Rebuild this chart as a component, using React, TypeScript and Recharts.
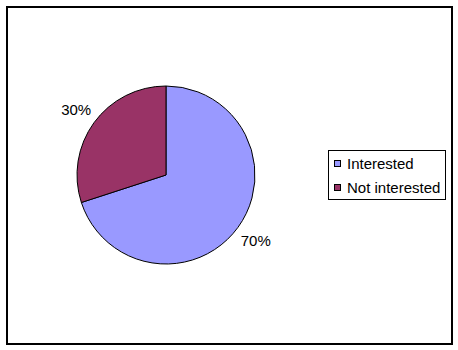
import React from 'react';
import { PieChart, Pie, Cell, Legend } from 'recharts';

const categories = ['Interested', 'Not interested'];
const values = [70, 30];
const colors = ['#9999FF', '#993366'];

const data = categories.map((name, i) => ({ name, value: values[i] }));

const RADIAN = Math.PI / 180;

const renderLabel = (props: any) => {
  const { cx, cy, midAngle, outerRadius, percent } = props;
  const r = outerRadius + 22;
  const x = cx + r * Math.cos(-midAngle * RADIAN);
  const y = cy + r * Math.sin(-midAngle * RADIAN);
  return (
    <text x={x} y={y} fill="#000" textAnchor="middle" dominantBaseline="central" fontSize={15}>
      {`${Math.round(percent * 100)}%`}
    </text>
  );
};

const renderLegend = () => (
  <div style={{ boxSizing: 'border-box', border: '1px solid #000', background: '#fff', padding: '0 0 0 5px', width: 118, height: 50 }}>
    {data.map((d, i) => (
      <div key={d.name} style={{ display: 'flex', alignItems: 'center', height: 24, fontSize: 15, whiteSpace: 'nowrap' }}>
        <span style={{ width: 5, height: 5, background: colors[i], border: '1px solid #000', marginRight: 6, flexShrink: 0 }} />
        <span>{d.name}</span>
      </div>
    ))}
  </div>
);

const App: React.FC = () => {
  return (
    <div style={{ position: 'absolute', left: 0, top: 0, width: 458, height: 350, background: '#fff', fontFamily: '"Liberation Sans", Arial, sans-serif' }}>
      <div style={{ position: 'absolute', left: 6, top: 6, width: 443, height: 335, border: '2px solid #000' }} />
      <PieChart width={458} height={350} margin={{ top: 0, right: 0, bottom: 0, left: 0 }} style={{ position: 'absolute', left: 0, top: 0 }}>
        <Pie
          data={data}
          dataKey="value"
          nameKey="name"
          cx={166}
          cy={175}
          outerRadius={89}
          startAngle={90}
          endAngle={-270}
          stroke="#000"
          strokeWidth={1}
          label={renderLabel}
          labelLine={false}
          isAnimationActive={false}
        >
          {data.map((d, i) => (
            <Cell key={d.name} fill={colors[i]} />
          ))}
        </Pie>
        <Legend
          content={renderLegend}
          layout="vertical"
          wrapperStyle={{ position: 'absolute', left: 328, top: 150, width: 'auto' }}
        />
      </PieChart>
    </div>
  );
};

export default App;
